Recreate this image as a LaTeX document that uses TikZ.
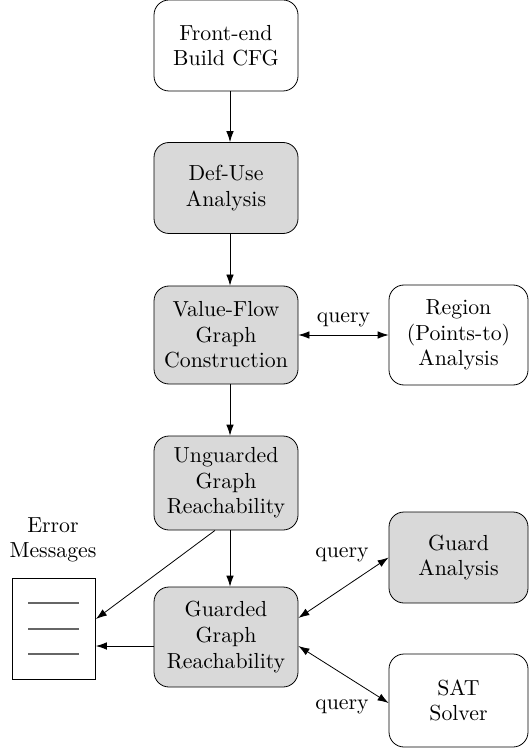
\documentclass[tikz,border=0pt]{standalone}
\usetikzlibrary{arrows.meta}
\begin{document}
\begin{tikzpicture}[x=0.5pt,y=-0.5pt,>={Latex[length=5.5pt,width=3.8pt]},
  txt/.style={font=\fontsize{10.9}{12.8}\selectfont},
  box/.style={draw,rounded corners=7.5pt,align=center,inner sep=1pt,txt},
  gbox/.style={box,fill=gray!30},
  doc/.style={draw,minimum width=41.5pt,minimum height=50.5pt,inner sep=0pt},
  lbl/.style={txt,inner sep=1pt}]
\useasboundingbox (0,0) rectangle (529,748);
\node[box,minimum width=72pt,minimum height=45.5pt] (fe) at (226,45.5) {Front-end\\Build CFG};
\node[gbox,minimum width=72pt,minimum height=45.5pt] (du) at (226,188) {Def-Use\\Analysis};
\node[gbox,minimum width=72pt,minimum height=49pt] (vf) at (226,335) {Value-Flow\\Graph\\Construction};
\node[box,minimum width=69.5pt,minimum height=50pt] (rg) at (458.5,335) {Region\\(Points-to)\\Analysis};
\node[gbox,minimum width=72pt,minimum height=47pt] (ug) at (226,483) {Unguarded\\Graph\\Reachability};
\node[gbox,minimum width=72pt,minimum height=50pt] (gg) at (226,637) {Guarded\\Graph\\Reachability};
\node[gbox,minimum width=69.5pt,minimum height=45.5pt] (ga) at (458.5,557.5) {Guard\\Analysis};
\node[box,minimum width=69.5pt,minimum height=46.5pt] (sat) at (458.5,700.5) {SAT\\Solver};
\node[doc] (err) at (54,628.5) {};
\node[txt,align=center,inner sep=0pt] (errl) at (53,540) {Error\\Messages};
\foreach \y in {603,629,654}{
  \draw[gray!80!black,line width=0.6pt] (28,\y) -- (79,\y);
}
\draw[->] ([xshift=2pt]fe.south) -- ([xshift=2pt]du.north);
\draw[->] ([xshift=2pt]du.south) -- ([xshift=2pt]vf.north);
\draw[->] ([xshift=2pt]vf.south) -- ([xshift=2pt]ug.north);
\draw[->] ([xshift=2pt]ug.south) -- ([xshift=2pt]gg.north);
\draw[<->] (vf.east) -- node[lbl,above=3pt] (q1) {query} (rg.west);
\draw[<->] (gg.east |- 0,618) coordinate (g1) -- (ga.west);
\node[lbl] (q2) at (342,555) {query};
\draw[<->] (gg.east |- 0,646) coordinate (g2) -- (sat.west |- 0,703);
\node[lbl] (q3) at (342,707) {query};
\draw[->] (ug.south -| 215,0) coordinate (u1) -- (err.east |- 0,619);
\draw[->] (gg.west |- 0,646) -- (err.east |- 0,646);
\end{tikzpicture}
\end{document}
